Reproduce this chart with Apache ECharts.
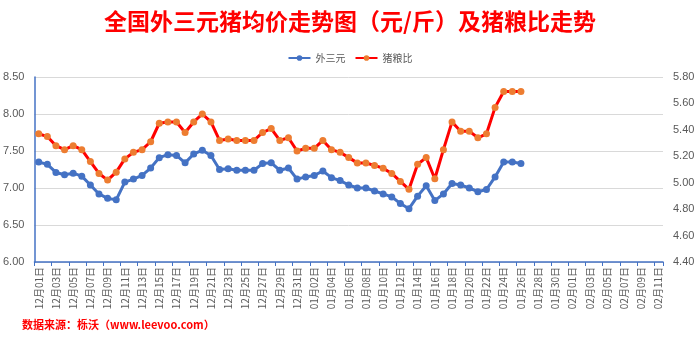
<!DOCTYPE html>
<html>
<head>
<meta charset="utf-8">
<style>
  html, body { margin: 0; padding: 0; background: #fff; }
  #chart { width: 700px; height: 341px; }
</style>
<script src="https://cdn.jsdelivr.net/npm/echarts@6/dist/echarts.min.js"></script>
</head>
<body>
<div id="chart"></div>
<script>
// Daily dates on the category axis
const dates = [
  '12月01日','12月02日','12月03日','12月04日','12月05日','12月06日','12月07日','12月08日','12月09日','12月10日',
  '12月11日','12月12日','12月13日','12月14日','12月15日','12月16日','12月17日','12月18日','12月19日','12月20日',
  '12月21日','12月22日','12月23日','12月24日','12月25日','12月26日','12月27日','12月28日','12月29日','12月30日',
  '12月31日','01月01日','01月02日','01月03日','01月04日','01月05日','01月06日','01月07日','01月08日','01月09日',
  '01月10日','01月11日','01月12日','01月13日','01月14日','01月15日','01月16日','01月17日','01月18日','01月19日',
  '01月20日','01月21日','01月22日','01月23日','01月24日','01月25日','01月26日','01月27日','01月28日','01月29日',
  '01月30日','01月31日','02月01日','02月02日','02月03日','02月04日','02月05日','02月06日','02月07日','02月08日',
  '02月09日','02月10日','02月11日'
];

// National average price of crossbred (外三元) hogs, yuan per jin
const hogPrice = [
  7.35, 7.32, 7.21, 7.18, 7.20, 7.16, 7.04, 6.92, 6.86, 6.84,
  7.08, 7.12, 7.17, 7.27, 7.41, 7.45, 7.44, 7.34, 7.46, 7.51,
  7.44, 7.25, 7.26, 7.24, 7.24, 7.24, 7.33, 7.34, 7.24, 7.27,
  7.12, 7.15, 7.17, 7.23, 7.14, 7.10, 7.04, 7.00, 7.00, 6.96,
  6.92, 6.88, 6.79, 6.72, 6.89, 7.03, 6.83, 6.92, 7.06, 7.04,
  7.00, 6.95, 6.98, 7.15, 7.35, 7.35, 7.33
];

// Hog-to-grain price ratio
const hogGrainRatio = [
  5.37, 5.35, 5.28, 5.25, 5.28, 5.25, 5.16, 5.07, 5.02, 5.08,
  5.18, 5.23, 5.25, 5.31, 5.45, 5.46, 5.46, 5.38, 5.46, 5.52,
  5.46, 5.32, 5.33, 5.32, 5.32, 5.32, 5.38, 5.41, 5.32, 5.34,
  5.24, 5.26, 5.26, 5.32, 5.25, 5.23, 5.19, 5.15, 5.15, 5.13,
  5.11, 5.07, 5.01, 4.95, 5.14, 5.19, 5.03, 5.25, 5.46, 5.39,
  5.39, 5.34, 5.37, 5.57, 5.69, 5.69, 5.69
];

const leftTicks = { min: 6.0, max: 8.5, step: 0.5 };
const rightTicks = { min: 4.4, max: 5.8, step: 0.2 };

const labelColor = '#595959';
const axisBlue = '#4472C4';
const cjk = '"Noto Sans CJK SC", "Noto Sans", sans-serif';

const chart = echarts.init(document.getElementById('chart'), null, { renderer: 'canvas' });

chart.setOption({
  animation: false,
  backgroundColor: '#ffffff',
  title: {
    text: '全国外三元猪均价走势图（元/斤）及猪粮比走势',
    left: 'center',
    top: 5,
    textStyle: { color: '#ff0000', fontSize: 23, fontWeight: 'bold', fontFamily: cjk }
  },
  legend: {
    top: 48,
    left: 'center',
    itemWidth: 22,
    itemHeight: 7,
    itemGap: 9,
    textStyle: { color: labelColor, fontSize: 10, fontFamily: cjk },
    data: ['外三元', '猪粮比']
  },
  graphic: [{
    type: 'text',
    left: 22,
    top: 319,
    style: {
      text: '数据来源：栎沃（www.leevoo.com）',
      fill: '#ff0000',
      font: 'bold 11px ' + cjk
    }
  }],
  grid: { left: 34, right: 37, top: 77, bottom: 79, containLabel: false },
  xAxis: {
    type: 'category',
    data: dates,
    boundaryGap: true,
    axisLine: { show: true, lineStyle: { color: axisBlue, width: 1.5 } },
    axisTick: { show: true, interval: 1, length: 4, lineStyle: { color: axisBlue } },
    axisLabel: {
      interval: 1,
      rotate: 90,
      margin: 5,
      color: labelColor,
      fontSize: 10,
      fontFamily: cjk
    },
    splitLine: { show: false }
  },
  yAxis: [
    {
      type: 'value',
      min: leftTicks.min,
      max: leftTicks.max,
      interval: leftTicks.step,
      position: 'left',
      axisLine: { show: true, lineStyle: { color: axisBlue, width: 1.5 } },
      axisTick: { show: false },
      axisLabel: {
        color: labelColor, fontSize: 11, margin: 10,
        fontFamily: '"Liberation Sans", sans-serif',
        formatter: v => v.toFixed(2)
      },
      splitLine: { show: true, lineStyle: { color: '#d9d9d9', width: 1 } }
    },
    {
      type: 'value',
      min: rightTicks.min,
      max: rightTicks.max,
      interval: rightTicks.step,
      position: 'right',
      axisLine: { show: false },
      axisTick: { show: false },
      axisLabel: {
        color: labelColor, fontSize: 11, margin: 10,
        fontFamily: '"Liberation Sans", sans-serif',
        formatter: v => v.toFixed(2)
      },
      splitLine: { show: false }
    }
  ],
  series: [
    {
      name: '外三元',
      type: 'line',
      yAxisIndex: 0,
      data: hogPrice,
      symbol: 'circle',
      symbolSize: 7,
      showAllSymbol: true,
      lineStyle: { color: axisBlue, width: 3 },
      itemStyle: { color: axisBlue }
    },
    {
      name: '猪粮比',
      type: 'line',
      yAxisIndex: 1,
      data: hogGrainRatio,
      symbol: 'circle',
      symbolSize: 7,
      showAllSymbol: true,
      lineStyle: { color: '#ff0000', width: 3 },
      itemStyle: { color: '#ED7D31' }
    }
  ]
});
</script>
</body>
</html>
